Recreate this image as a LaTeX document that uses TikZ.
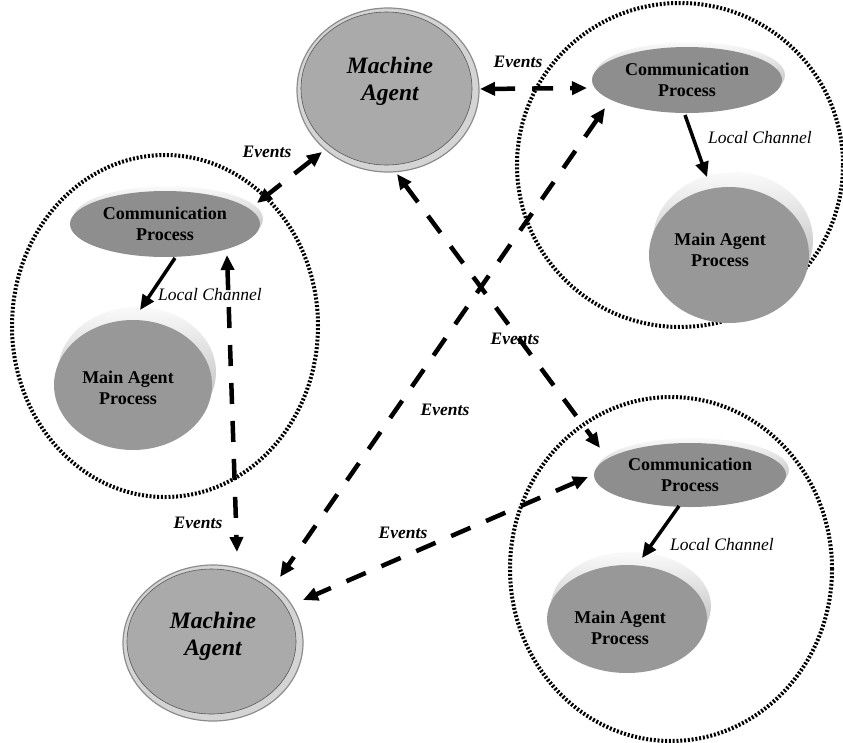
\documentclass[tikz,border=0pt]{standalone}
\usepackage{fontspec}
\setmainfont{Liberation Serif}
\usetikzlibrary{arrows.meta,shapes.geometric,calc}
\definecolor{maface}{RGB}{170,170,170}
\definecolor{marim}{RGB}{212,212,212}
\definecolor{maedge}{RGB}{140,140,140}
\definecolor{cpface}{RGB}{142,142,142}
\definecolor{mapface}{RGB}{152,152,152}
\begin{document}
\begin{tikzpicture}[x=1pt,y=-1pt,
  zone/.style={ellipse, draw=black, line width=4pt, dash pattern=on 2pt off 1.8pt, inner sep=0pt, outer sep=0pt},
  machine/.style n args={2}{ellipse, inner sep=0pt, outer sep=0pt, minimum width=#1, minimum height=#2,
     fill=marim, draw=maedge, line width=1.2pt,
     path picture={\fill[maface, draw=gray!70!black, line width=0.6pt] ($(path picture bounding box.center)+(-1.5,-1.5)$) ellipse [x radius={#1/2-5.5}, y radius={#2/2-5.5}];}},
  cproc/.style n args={2}{ellipse, inner sep=0pt, outer sep=0pt, minimum width=#1, minimum height=#2, fill=cpface,
     font=\fontsize{18}{21.5}\selectfont\bfseries, align=center},
  mproc/.style n args={2}{ellipse, inner sep=0pt, outer sep=0pt, minimum width=#1, minimum height=#2, fill=mapface},
  rim/.style={top color=gray!4, bottom color=gray!65},
  mtext/.style={font=\fontsize{23.5}{27}\selectfont\bfseries\itshape, align=center},
  ptext/.style={font=\fontsize{18}{21}\selectfont\bfseries, align=center},
  ev/.style={line width=4.5pt, dash pattern=on 21pt off 17pt,
     {Triangle[length=15pt,width=13pt]}-{Triangle[length=15pt,width=13pt]}},
  lc/.style={line width=3.5pt, -{Triangle[length=15pt,width=13pt]}},
  evlab/.style={font=\fontsize{17.5}{21}\selectfont\bfseries\itshape},
  lclab/.style={font=\fontsize{17.5}{21}\selectfont\itshape}
]
\useasboundingbox (0,0) rectangle (843,742);

% dotted boundary circles
\node[zone, minimum width=306pt, minimum height=342pt] (zL) at (165,326) {};
\node[zone, minimum width=326pt, minimum height=324pt] (zTR) at (680,165) {};
\node[zone, minimum width=322pt, minimum height=344pt] (zBR) at (671,569) {};

% centres
\coordinate (cL) at (165,224);
\coordinate (cTR) at (687,80);
\coordinate (cBR) at (690,475);
\coordinate (pL) at (133,385);
\coordinate (pTR) at (729,255);
\coordinate (pBR) at (627,619);

% 3D rims
\shade[rim] ($(cL)+(3,-5)$) ellipse [x radius=95, y radius=33];
\shade[rim] ($(cTR)+(3,-5)$) ellipse [x radius=95, y radius=33];
\shade[rim] ($(cBR)+(3,-5)$) ellipse [x radius=96, y radius=32];
\shade[rim] ($(pL)+(4,-13)$) ellipse [x radius=79, y radius=65];
\shade[rim] ($(pTR)+(4,-15)$) ellipse [x radius=80, y radius=68];
\shade[rim] ($(pBR)+(4,-13)$) ellipse [x radius=80, y radius=54];

% machine agents
\node[machine={182pt}{164pt}] (maT) at (388,90) {};
\node[mtext] (maTt) at ($(maT)+(2,-9)$) {Machine\\Agent};
\node[machine={180pt}{156pt}] (maB) at (213,643) {};
\node[mtext] (maBt) at ($(maB)+(0,-7)$) {Machine\\Agent};

% communication processes
\node[cproc={190pt}{66pt}] (cpL) at (cL) {Communication\\Process};
\node[cproc={190pt}{66pt}] (cpTR) at (cTR) {Communication\\Process};
\node[cproc={192pt}{64pt}] (cpBR) at (cBR) {Communication\\Process};

% main agent processes
\node[mproc={158pt}{130pt}] (mapL) at (pL) {};
\node[ptext] (mapLt) at ($(mapL)+(-5,3)$) {Main Agent\\Process};
\node[mproc={160pt}{136pt}] (mapTR) at (pTR) {};
\node[ptext] (mapTRt) at ($(mapTR)+(-9,-5)$) {Main Agent\\Process};
\node[mproc={160pt}{108pt}] (mapBR) at (pBR) {};
\node[ptext] (mapBRt) at ($(mapBR)+(-7,9)$) {Main Agent\\Process};

% local channels
\draw[lc] ($(cpL)+(10,34)$) -- ($(mapL)+(7,-75)$);
\draw[lc] ($(cpTR)+(-2,35)$) -- ($(mapTR)+(-22,-78)$);
\draw[lc] ($(cpBR)+(-11,31)$) -- ($(mapBR)+(15,-61)$);
\node[lclab] (lcL) at (210,295) {Local Channel};
\node[lclab] (lcTR) at (760,138) {Local Channel};
\node[lclab] (lcBR) at (722,545) {Local Channel};

% events
\draw[ev] ($(maT)+(92,-1)$) -- ($(cpTR)+(-100,8)$);
\draw[ev] ($(maT)+(-66,62)$) -- ($(cpL)+(92,-21)$);
\draw[ev] ($(maT)+(9,84)$) -- ($(cpBR)+(-90,-27)$);
\draw[ev] ($(cpL)+(62,31)$) -- ($(maB)+(24,-91)$);
\draw[ev] ($(cpTR)+(-82,28)$) -- ($(maB)+(67,-66)$);
\draw[ev] ($(cpBR)+(-102,2)$) -- ($(maB)+(90,-43)$);

\node[evlab] (e1) at (518,62) {Events};
\node[evlab] (e2) at (267,152) {Events};
\node[evlab] (e3) at (515,339) {Events};
\node[evlab] (e4) at (445,410) {Events};
\node[evlab] (e5) at (198,523) {Events};
\node[evlab] (e6) at (403,533) {Events};
\end{tikzpicture}
\end{document}
